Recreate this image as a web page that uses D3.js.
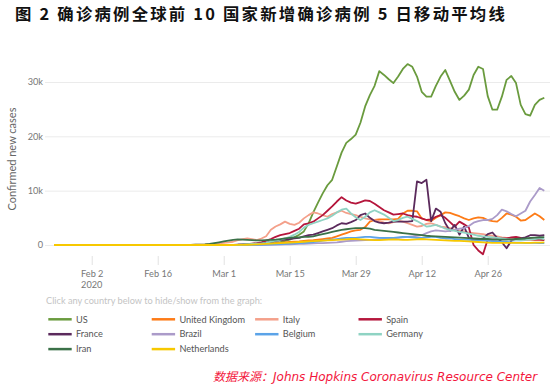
<!DOCTYPE html>
<html>
<head>
<meta charset="utf-8">
<script src="https://cdn.jsdelivr.net/npm/d3@7"></script>
<style>
    body { margin: 0; background: #fff; }
    svg text { font-family: Lato, "Open Sans", sans-serif; }
</style>
</head>
<body>
<div id="chart"></div>
<script>
const firstDay = "2020-01-25";
const lastDay = "2020-05-08";

const countries = ["US", "United Kingdom", "Italy", "Spain", "France", "Brazil", "Belgium", "Germany", "Iran", "Netherlands"];
const colors = ["#6a9b3e", "#fd7b17", "#f4a08a", "#b5163c", "#5b2a5c", "#ab9bc9", "#5ba3e8", "#8fd3c3", "#3b7148", "#f7c800"];

// 5-day moving average of new cases, one value per day from Jan 25, one row = one week
const us = [
    0, 0, 0, 0, 0, 0, 0,
    0, 0, 0, 0, 0, 0, 0,
    0, 0, 0, 0, 0, 0, 0,
    0, 0, 0, 0, 0, 0, 0,
    0, 0, 0, 0, 0, 0, 0,
    10, 10, 20, 30, 40, 60, 80,
    100, 130, 170, 230, 300, 400, 550,
    750, 1000, 1400, 1900, 2500, 4000, 6000,
    7800, 9500, 11000, 12000, 14500, 17000, 18800,
    19500, 20300, 22500, 25500, 27600, 29300, 32000,
    31300, 30500, 29800, 31000, 32400, 33300, 32800,
    31000, 28200, 27300, 27300, 29300, 31000, 32200,
    30200, 28200, 26700, 27500, 28600, 31300, 32800,
    32400, 27400, 24900, 24900, 27300, 30400, 31100,
    29800, 25800, 24100, 23800, 25800, 26700, 27100]
const uk = [
    0, 0, 0, 0, 0, 0, 0,
    0, 0, 0, 0, 0, 0, 0,
    0, 0, 0, 0, 0, 0, 0,
    0, 0, 0, 0, 0, 0, 0,
    0, 0, 0, 0, 0, 0, 0,
    0, 0, 0, 0, 0, 20, 30,
    50, 70, 100, 150, 200, 300, 400,
    500, 550, 600, 650, 750, 850, 900,
    1000, 1100, 1200, 1300, 1600, 1900, 2200,
    2500, 2700, 2800, 3300, 4300, 4600, 4700,
    4700, 4700, 4700, 4800, 5800, 6300, 6300,
    6200, 4900, 4600, 4400, 5000, 5500, 6000,
    5900, 5600, 5300, 4900, 4600, 4900, 5100,
    5000, 4600, 4400, 4300, 5000, 5800, 5600,
    5200, 4500, 4600, 5200, 5800, 5300, 4600]
const italy = [
    0, 0, 0, 0, 0, 0, 0,
    0, 0, 0, 0, 0, 0, 0,
    0, 0, 0, 0, 0, 0, 0,
    0, 0, 0, 0, 0, 0, 0,
    0, 30, 50, 80, 120, 180, 230,
    300, 400, 480, 600, 900, 1100, 1200,
    1100, 900, 1200, 1600, 2800, 3400, 3800,
    4300, 3900, 3700, 4100, 4900, 5500, 6000,
    5800, 5500, 5200, 5700, 6000, 6300, 5900,
    5700, 5500, 5200, 4900, 4700, 4600, 4400,
    4100, 4000, 4200, 4500, 4300, 4000, 3700,
    3400, 3500, 3900, 4000, 3700, 3400, 3300,
    3100, 2800, 2700, 2500, 2300, 2200, 2100,
    2000, 1800, 1700, 1600, 1400, 1300, 1200,
    1100, 1000, 900, 900, 900, 900, 900]
const spain = [
    0, 0, 0, 0, 0, 0, 0,
    0, 0, 0, 0, 0, 0, 0,
    0, 0, 0, 0, 0, 0, 0,
    0, 0, 0, 0, 0, 0, 0,
    0, 0, 0, 0, 0, 0, 0,
    0, 0, 20, 40, 60, 100, 150,
    250, 350, 500, 800, 1100, 1500, 1800,
    2000, 2200, 2600, 3000, 3800, 4000, 4300,
    4900, 5500, 6300, 7100, 8000, 8800, 8200,
    7800, 7600, 7900, 8200, 8100, 7600, 7000,
    6400, 6000, 5600, 5700, 5800, 5500, 5300,
    5200, 4900, 4600, 4700, 5200, 5500, 5000,
    4200, 3400, 4300, 3800, 3200, 0, -1000,
    -1700, 1000, 1000, 1100, 1200, 1200, 1400,
    1500, 1300, 1200, 1100, 1000, 1000, 900]
const france = [
    0, 0, 0, 0, 0, 0, 0,
    0, 0, 0, 0, 0, 0, 0,
    0, 0, 0, 0, 0, 0, 0,
    0, 0, 0, 0, 0, 0, 0,
    0, 0, 0, 0, 0, 0, 0,
    0, 0, 30, 40, 70, 100, 150,
    200, 250, 300, 450, 600, 750, 900,
    1000, 1100, 1200, 1300, 1600, 1800, 1900,
    2200, 2500, 2800, 3100, 3600, 4000, 3900,
    4200, 4600, 5500, 5800, 5000, 4400, 4100,
    4000, 4100, 4300, 4300, 4300, 4300, 4400,
    11700, 11400, 12000, 4400, 6700, 6100, 4000,
    2600, 3700, 1900, 3400, 1300, 900, 1000,
    1200, 2000, 2300, 1300, 500, -600, 800,
    1100, 1200, 1400, 1800, 1800, 1700, 1800]
const brazil = [
    0, 0, 0, 0, 0, 0, 0,
    0, 0, 0, 0, 0, 0, 0,
    0, 0, 0, 0, 0, 0, 0,
    0, 0, 0, 0, 0, 0, 0,
    0, 0, 0, 0, 0, 0, 0,
    0, 0, 0, 0, 0, 0, 0,
    0, 0, 0, 20, 40, 60, 80,
    100, 130, 170, 200, 230, 260, 300,
    330, 360, 400, 450, 500, 600, 700,
    750, 800, 850, 900, 950, 1000, 1050,
    1100, 1150, 1200, 1300, 1400, 1500, 1600,
    1700, 1800, 2200, 2500, 2700, 2600, 2500,
    2600, 2800, 3000, 3100, 3500, 4100, 4400,
    4600, 4600, 4800, 5500, 6500, 6200, 5700,
    5300, 5800, 6300, 8000, 9200, 10500, 10000]
const belgium = [
    0, 0, 0, 0, 0, 0, 0,
    0, 0, 0, 0, 0, 0, 0,
    0, 0, 0, 0, 0, 0, 0,
    0, 0, 0, 0, 0, 0, 0,
    0, 0, 0, 0, 0, 0, 0,
    0, 0, 0, 0, 0, 0, 0,
    30, 40, 60, 80, 100, 130, 170,
    200, 250, 300, 350, 400, 450, 550,
    650, 800, 900, 1000, 1100, 1200, 1300,
    1300, 1300, 1400, 1500, 1500, 1400, 1300,
    1300, 1300, 1300, 1400, 1500, 1500, 1400,
    1300, 1300, 1400, 1500, 1500, 1300, 1200,
    1200, 1100, 1000, 1000, 950, 900, 850,
    800, 750, 700, 650, 600, 550, 500,
    450, 450, 400, 400, 380, 360, 350]
const germany = [
    0, 0, 0, 0, 0, 0, 0,
    0, 0, 0, 0, 0, 0, 0,
    0, 0, 0, 0, 0, 0, 0,
    0, 0, 0, 0, 0, 0, 0,
    0, 0, 0, 0, 0, 0, 0,
    0, 20, 30, 40, 60, 100, 150,
    200, 250, 300, 400, 600, 800, 1000,
    1200, 1500, 1900, 2400, 3200, 3700, 4000,
    4300, 4600, 4900, 5400, 6000, 6500, 6700,
    5800, 5100, 4600, 5200, 6000, 6400, 6000,
    5600, 5000, 4400, 4600, 5000, 5200, 4800,
    4400, 3900, 3400, 3500, 3700, 3400, 3000,
    2800, 2600, 2400, 2300, 2100, 1900, 1700,
    1600, 1500, 1400, 1300, 1200, 1100, 1000,
    950, 900, 950, 1000, 1100, 1200, 1100]
const iran = [
    0, 0, 0, 0, 0, 0, 0,
    0, 0, 0, 0, 0, 0, 0,
    0, 0, 0, 0, 0, 0, 0,
    0, 0, 0, 0, 0, 0, 10,
    20, 30, 50, 80, 120, 200, 350,
    500, 650, 800, 950, 1050, 1000, 950,
    900, 850, 850, 900, 950, 1000, 1100,
    1200, 1300, 1400, 1400, 1500, 1500, 1600,
    1800, 2000, 2200, 2400, 2600, 2800, 2900,
    3000, 3100, 3100, 3100, 3000, 2800, 2700,
    2600, 2500, 2400, 2300, 2200, 2100, 2000,
    1900, 1800, 1700, 1650, 1600, 1550, 1500,
    1450, 1400, 1350, 1300, 1250, 1200, 1150,
    1100, 1100, 1050, 1000, 1000, 1000, 1050,
    1100, 1150, 1200, 1300, 1350, 1400, 1450]
const netherlands = [
    0, 0, 0, 0, 0, 0, 0,
    0, 0, 0, 0, 0, 0, 0,
    0, 0, 0, 0, 0, 0, 0,
    0, 0, 0, 0, 0, 0, 0,
    0, 0, 0, 0, 0, 0, 0,
    0, 0, 0, 0, 20, 30, 50,
    80, 100, 150, 200, 250, 300, 350,
    400, 450, 500, 550, 600, 650, 700,
    750, 800, 850, 900, 950, 1000, 1050,
    1100, 1100, 1050, 1000, 950, 900, 900,
    950, 1000, 1050, 1000, 950, 950, 1000,
    1050, 1100, 1050, 1000, 950, 900, 850,
    800, 750, 750, 700, 650, 600, 550,
    500, 450, 400, 400, 400, 400, 400,
    400, 400, 400, 400, 450, 450, 500]

const seriesValues = [us, uk, italy, spain, france, brazil, belgium, germany, iran, netherlands];

const xTickDays = ["2020-02-02", "2020-02-16", "2020-03-01", "2020-03-15", "2020-03-29", "2020-04-12", "2020-04-26"];
const xTickLabels = ["Feb 2", "Feb 16", "Mar 1", "Mar 15", "Mar 29", "Apr 12", "Apr 26"];
const yTicks = [0, 10000, 20000, 30000];

const titleText = "图 2 确诊病例全球前 10 国家新增确诊病例 5 日移动平均线";
const yLabel = "Confirmed new cases";
const hintText = "Click any country below to hide/show from the graph:";
const sourceText = "数据来源：Johns Hopkins Coronavirus Resource Center";

const width_svg = 550;
const height_svg = 387;

let margin = { top: 82, right: 6, bottom: 142, left: 54 },
    plotRight = 544.3,
    plotBottom = height_svg - margin.bottom

const parseDay = d3.timeParse("%Y-%m-%d");
const days = d3.timeDay.range(parseDay(firstDay), d3.timeDay.offset(parseDay(lastDay), 1));

const svg = d3.select("#chart").append("svg")
    .attr("width", width_svg)
    .attr("height", height_svg)

// the scales
let x = d3.scaleTime()
    .domain([days[0], days[days.length - 1]])
    .range([margin.left, plotRight])
let y = d3.scaleLinear()
    .domain([0, 30000])
    .range([plotBottom, margin.top])

// title
svg.append("text")
    .attr("x", 15)
    .attr("y", 20)
    .style("font-family", "'Noto Sans CJK SC', sans-serif")
    .style("font-size", "16.4px")
    .style("font-weight", "bold")
    .style("letter-spacing", "2.2px")
    .style("fill", "#111")
    .text(titleText)

// y axis with grid lines
let yAxis = svg.append("g")
    .attr("transform", "translate(45,0)")
    .call(
        d3.axisLeft(y)
            .tickValues(yTicks)
            .tickSize(-(width_svg - 45))
            .tickPadding(2)
            .tickFormat(d => d === 0 ? "0" : d / 1000 + "k")
    )
yAxis.select(".domain").remove()
yAxis.selectAll(".tick line").attr("stroke", "#ebebeb")
yAxis.selectAll(".tick text")
    .attr("fill", "#777")
    .style("font-size", "9.2px")

svg.append("text")
    .attr("transform", `translate(12, 159) rotate(-90)`)
    .attr("text-anchor", "middle")
    .attr("dy", "0.35em")
    .style("font-size", "11px")
    .style("fill", "#666")
    .text(yLabel)

// x axis
let xAxis = svg.append("g")
    .attr("transform", "translate(0,256)")
    .call(
        d3.axisBottom(x)
            .tickValues(xTickDays.map(parseDay))
            .tickSize(9)
            .tickPadding(5)
            .tickFormat((d, i) => xTickLabels[i])
    )
xAxis.select(".domain").remove()
xAxis.selectAll(".tick line").attr("stroke", "#e2e2e2")
xAxis.selectAll(".tick text")
    .attr("fill", "#777")
    .style("font-size", "9.2px")

svg.append("text")
    .attr("x", x(parseDay(xTickDays[0])))
    .attr("y", 288)
    .attr("text-anchor", "middle")
    .style("font-size", "9.2px")
    .style("fill", "#777")
    .text("2020")

// lines
let line = d3.line()
    .x((d, i) => x(days[i]))
    .y(d => y(d))

svg.append("g")
    .selectAll("path")
    .data(seriesValues)
    .enter()
    .append("path")
    .attr("d", d => line(d))
    .attr("fill", "none")
    .attr("stroke", (d, i) => colors[i])
    .attr("stroke-width", 1.8)
    .attr("stroke-linejoin", "round")

// legend
svg.append("text")
    .attr("x", 46)
    .attr("y", 304)
    .style("font-size", "9.2px")
    .style("fill", "#c4c4c4")
    .text(hintText)

let legend = svg.append("g")
    .selectAll(".legend")
    .data(countries)
    .enter()
    .append("g")
    .attr("class", "legend")
    .attr("transform", (d, i) => `translate(${48.3 + (i % 4) * 103.4}, ${319.3 + Math.floor(i / 4) * 14.9})`)

legend.append("line")
    .attr("x1", 0)
    .attr("x2", 23.4)
    .attr("stroke", (d, i) => colors[i])
    .attr("stroke-width", 2.5)

legend.append("text")
    .attr("x", 27.7)
    .attr("dy", "0.35em")
    .style("font-size", "9.2px")
    .style("fill", "#555")
    .text(d => d)

// source note
svg.append("text")
    .attr("x", 213)
    .attr("y", 381)
    .style("font-family", "'DejaVu Sans', 'Noto Sans CJK SC', sans-serif")
    .style("font-size", "12px")
    .style("font-style", "italic")
    .style("fill", "#f3163c")
    .text(sourceText)
</script>
</body>
</html>
